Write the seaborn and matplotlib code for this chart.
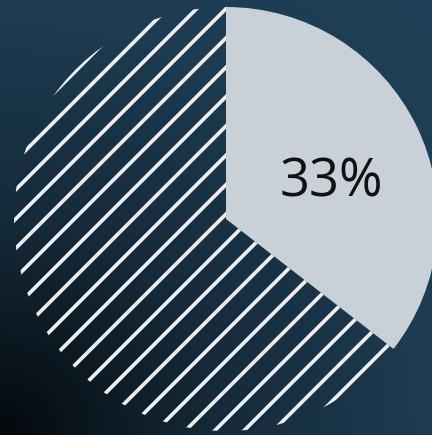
import numpy as np
import matplotlib
matplotlib.use("Agg")
import matplotlib.pyplot as plt
import seaborn as sns

# Data
categories = ["Share", "Rest"]
values = [35.5, 64.5]
labels = ["33%", ""]

sns.set_theme(style="white")
plt.rcParams['font.family'] = ['Open Sans', 'DejaVu Sans']
plt.rcParams['hatch.linewidth'] = 1.5

DPI = 176
W, H = 432, 436
fig = plt.figure(figsize=(W / DPI, H / DPI), dpi=DPI)
ax = fig.add_axes([0, 0, 1, 1])

# Background gradient (dark toward bottom-left corner)
cx, cy, R = 226, 220, 212
yy, xx = np.mgrid[0:H, 0:W]
d = np.hypot(xx - 0, yy - H)
f = np.interp(d, [0, 60, 216, 436, 620], [0.12, 0.28, 0.66, 0.94, 1.0])
base = np.array([0x1f, 0x40, 0x58]) / 255.0
img = f[..., None] * base[None, None, :]
xl = (-cx / R, (W - cx) / R)
yl = (-(H - cy) / R, cy / R)
ax.imshow(img, extent=[xl[0], xl[1], yl[0], yl[1]], origin="upper",
          zorder=0, aspect="auto", interpolation="bilinear")

wedges, _ = ax.pie(values, startangle=90, counterclock=False,
                   colors=["#c9d0d8", "#1c3a52"], radius=1.0,
                   hatch=["", "//"],
                   wedgeprops=dict(linewidth=0, zorder=2))
wedges[0].set_edgecolor("#c9d0d8")
wedges[1].set_facecolor("none")
wedges[1].set_edgecolor("#f0f0f0")
wedges[1].set_linewidth(0)

ax.text(0.495, 0.175, labels[0], ha="center", va="center",
        fontsize=21.5, color="#111111", zorder=3)

ax.set_xlim(*xl)
ax.set_ylim(*yl)
ax.set_aspect("auto")
ax.axis("off")
fig.savefig("out.png", dpi=DPI)
